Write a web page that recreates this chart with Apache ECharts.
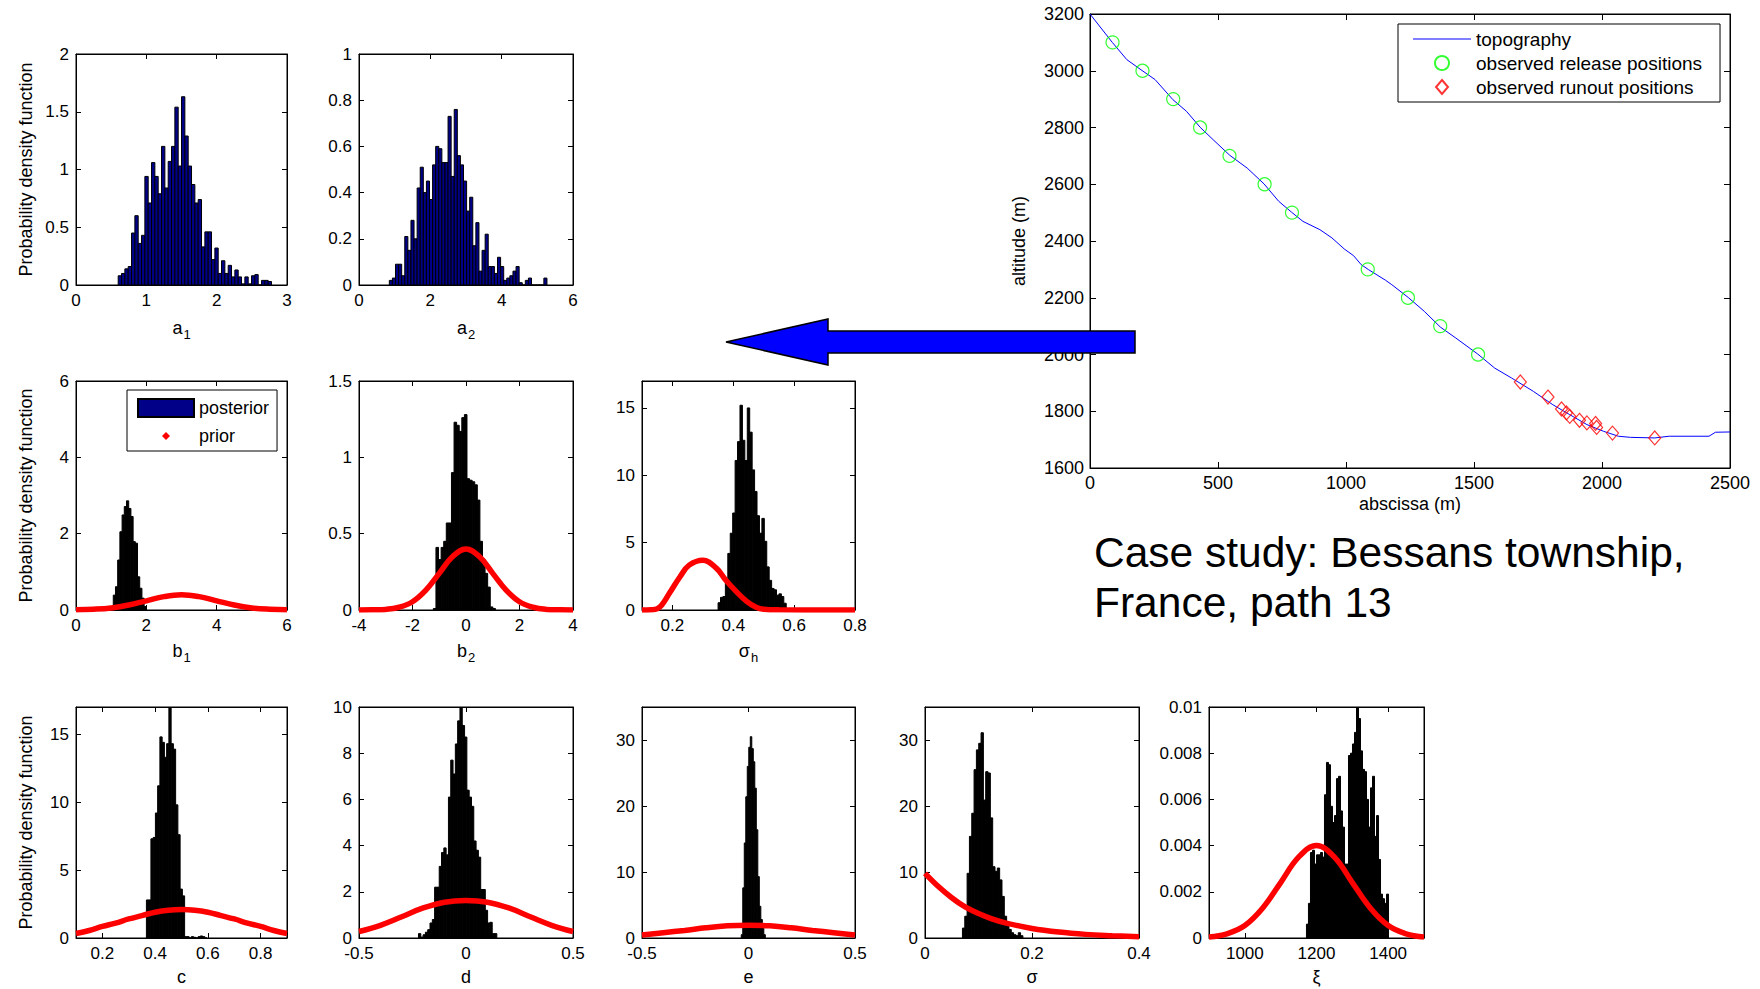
<!DOCTYPE html>
<html>
<head>
<meta charset="utf-8">
<script src="https://cdn.jsdelivr.net/npm/echarts@6/dist/echarts.min.js"></script>
<style>
  html, body { margin: 0; padding: 0; background: #fff; }
  #chart { width: 1760px; height: 989px; }
</style>
</head>
<body>
<div id="chart"></div>
<script>
// ---------- posterior histograms: bin range [lo, hi] and density of each equal-width bin ----------
const a1Range = [0.60, 2.78];
const a1Density = [0.08,0.10,0.14,0.16,0.45,0.60,0.36,0.43,0.94,0.71,1.06,0.94,0.79,1.20,0.84,1.07,1.20,1.54,1.03,1.63,1.29,1.03,0.87,0.71,0.74,0.33,0.46,0.46,0.22,0.32,0.10,0.21,0.10,0.17,0.07,0.13,0.07,0.01,0.07,0.01,0.08,0.09,0.00,0.04,0.04,0.03];

const a2Range = [0.85, 5.27];
const a2Density = [0.02,0.03,0.09,0.09,0.04,0.21,0.15,0.28,0.20,0.42,0.51,0.40,0.45,0.37,0.52,0.60,0.59,0.53,0.53,0.73,0.47,0.76,0.56,0.52,0.45,0.32,0.38,0.17,0.27,0.06,0.15,0.22,0.08,0.08,0.05,0.12,0.08,0.02,0.03,0.04,0.06,0.08,0.01,0.00,0.02,0.03,0.00,0.00,0.00,0.00,0.03];

const b1Range = [1.06, 2.00];
const b1Density = [0.39,0.61,1.31,2.05,2.49,2.71,2.86,2.66,2.45,1.79,1.75,0.87,0.57,0.31,0.09];

const b2Range = [-1.22, 1.10];
const b2Density = [0.01,0.41,0.33,0.41,0.45,0.57,0.57,0.90,1.23,1.21,1.17,1.26,1.28,0.86,0.85,0.84,0.82,0.72,0.45,0.33,0.24,0.15,0.02,0.01];

const sigmaHRange = [0.350, 0.574];
const sigmaHDensity = [0.54,0.94,1.0,2.2,4.2,5.7,7.2,11.1,12.5,15.2,12.6,11.1,15.0,13.2,10.4,8.8,7.0,5.7,6.8,5.1,3.2,2.2,1.6,1.5,1.1,1.2,1.0,0.5];

const cRange = [0.367, 0.597];
const cDensity = [2.8,2.8,7.3,7.4,9.2,11.2,14.8,14.4,13.3,14.3,17.0,14.3,13.9,9.8,7.6,3.6,3.1,0.1,0.1,0,0.1,0.05,0,0.1,0.15,0.1,0];

const dRange = [-0.222, 0.144];
const dDensity = [0.19,0.04,0.14,0.25,0.36,0.65,0.8,2.2,2.2,3.1,3.7,3.9,3.6,6.1,7.7,7.1,8.4,9.4,10.0,9.2,8.7,6.4,6.1,5.7,4.2,3.8,3.5,2.1,2.1,1.2,0.65,0.68,0.19,0.19];

const eRange = [-0.034, 0.079];
const eDensity = [0.5,7.6,14.4,21.4,26,28.9,30.5,28.7,26.7,22.7,16.4,9.3,4.8,2.8,1.7,0.5];

const sigmaRange = [0.070, 0.183];
const sigmaDensity = [1.5,3.3,9.8,15.4,18.9,25.5,28.5,29.5,31.1,20.9,25.2,25.0,18.2,10.8,10.1,10.6,8.8,6.3,3.3,1.8,1.3,0.8,0.5,0.35,0.8,0.35];

const xiRange = [1172, 1401];
const xiDensity = [0.0006,0.0015,0.0037,0.0038,0.0032,0.0036,0.0036,0.0037,0.0035,0.0062,0.0076,0.0075,0.0057,0.0050,0.0053,0.0069,0.0070,0.0055,0.0048,0.0032,0.0032,0.0079,0.0080,0.0084,0.0089,0.0100,0.0095,0.0081,0.0073,0.0072,0.0060,0.0048,0.0065,0.0070,0.0044,0.0053,0.0034,0.0019,0.0017,0.0015,0.0019];

// ---------- prior densities ----------
const b1PriorX = [0,0.5,1,1.5,2,2.5,3,3.5,4,4.5,5,5.5,6];
const b1PriorY = [0.005,0.02,0.055,0.13,0.24,0.35,0.40,0.35,0.24,0.13,0.055,0.02,0.005];

const b2PriorX = [-4,-3.5,-3,-2.5,-2,-1.5,-1,-0.5,0,0.5,1,1.5,2,2.5,3,3.5,4];
const b2PriorY = [0,0.001,0.004,0.018,0.054,0.13,0.24,0.35,0.40,0.35,0.24,0.13,0.054,0.018,0.004,0.001,0];

const sigmaHPriorX = [0.1,0.13,0.15,0.165,0.19,0.225,0.255,0.3,0.345,0.375,0.41,0.445,0.475,0.5,0.55,0.8];
const sigmaHPriorY = [0,0.02,0.1,0.37,1.24,2.47,3.33,3.7,3.09,2.22,1.36,0.62,0.2,0.05,0.01,0];

const cPriorX = [0.1,0.15,0.2,0.25,0.3,0.35,0.4,0.45,0.5,0.55,0.6,0.65,0.7,0.75,0.8,0.85,0.9];
const cPriorY = [0.33,0.55,0.85,1.1,1.4,1.65,1.9,2.05,2.1,2.05,1.9,1.65,1.4,1.1,0.85,0.55,0.33];

const dPriorX = [-0.5,-0.4,-0.3,-0.2,-0.1,0,0.1,0.2,0.3,0.4,0.5];
const dPriorY = [0.28,0.55,0.92,1.3,1.55,1.62,1.55,1.3,0.92,0.55,0.28];

const ePriorX = [-0.5,-0.4,-0.3,-0.2,-0.1,0,0.1,0.2,0.3,0.4,0.5];
const ePriorY = [0.45,0.8,1.15,1.55,1.85,1.95,1.85,1.55,1.15,0.8,0.45];

const sigmaPriorX = [0,0.025,0.05,0.075,0.1,0.125,0.15,0.2,0.25,0.3,0.35,0.4];
const sigmaPriorY = [9.8,7.8,6.1,4.7,3.7,2.9,2.3,1.45,0.9,0.55,0.35,0.2];

const xiPriorX = [900,950,1000,1050,1100,1150,1200,1250,1300,1350,1400,1450,1500];
const xiPriorY = [0.00004,0.00018,0.00054,0.0013,0.0024,0.0035,0.0040,0.0035,0.0024,0.0013,0.00054,0.00018,0.00004];

// ---------- topography profile of path 13 ----------
const topoX   = [0,87,144,203,254,324,377,430,481,546,614,680,737,788,832,898,945,993,1030,1059,1088,1154,1179,1243,1306,1368,1429,1514,1581,1647,1732,1808,1874,1941,2007,2064,2111,2206,2263,2418,2443,2500];
const topoAlt = [3200,3100,3039,3001,2969,2898,2857,2801,2757,2702,2657,2601,2540,2501,2469,2440,2411,2372,2348,2317,2299,2262,2246,2201,2152,2097,2058,2002,1952,1917,1870,1823,1788,1753,1729,1712,1708,1706,1712,1712,1726,1727];
const releaseX   = [88,205,325,430,545,682,789,1085,1242,1368,1516];
const releaseAlt = [3100,3000,2900,2800,2700,2600,2500,2300,2200,2100,2000];
const runoutX   = [1681,1789,1842,1861,1874,1912,1941,1975,1979,2041,2206];
const runoutAlt = [1903,1850,1808,1794,1782,1768,1759,1757,1743,1723,1706];

// ---------- tick values ----------
const a1XTicks = [0,1,2,3],            a1YTicks = [0,0.5,1,1.5,2];
const a2XTicks = [0,2,4,6],            a2YTicks = [0,0.2,0.4,0.6,0.8,1];
const b1XTicks = [0,2,4,6],            b1YTicks = [0,2,4,6];
const b2XTicks = [-4,-2,0,2,4],        b2YTicks = [0,0.5,1,1.5];
const sigmaHXTicks = [0.2,0.4,0.6,0.8], sigmaHYTicks = [0,5,10,15];
const cXTicks = [0.2,0.4,0.6,0.8],     cYTicks = [0,5,10,15];
const dXTicks = [-0.5,0,0.5],          dYTicks = [0,2,4,6,8,10];
const eXTicks = [-0.5,0,0.5],          eYTicks = [0,10,20,30];
const sigmaXTicks = [0,0.2,0.4],       sigmaYTicks = [0,10,20,30];
const xiXTicks = [1000,1200,1400],     xiYTicks = [0,0.002,0.004,0.006,0.008,0.01];
const topoXTicks = [0,500,1000,1500,2000,2500];
const topoYTicks = [1600,1800,2000,2200,2400,2600,2800,3000,3200];

// ---------- drawing ----------
const FONT = "'Liberation Sans', Arial, Helvetica, sans-serif";
const NAVY = '#000088';
const PDF_LABEL = 'Probability density function';

// wide bins show the navy fill; the narrow bins are dominated by their black edges
const panels = [
  { box: [76, 54, 211, 231],   x: [0, 3],      y: [0, 2],    xt: a1XTicks, yt: a1YTicks, name: ['a', '1'], gap: 34, ylab: true,  fill: NAVY, hist: [a1Range, a1Density] },
  { box: [359, 54, 214, 231],  x: [0, 6],      y: [0, 1],    xt: a2XTicks, yt: a2YTicks, name: ['a', '2'], gap: 34, fill: NAVY, hist: [a2Range, a2Density] },
  { box: [76, 381, 211, 229],  x: [0, 6],      y: [0, 6],    xt: b1XTicks, yt: b1YTicks, name: ['b', '1'], gap: 32, ylab: true,  hist: [b1Range, b1Density], prior: [b1PriorX, b1PriorY] },
  { box: [359, 381, 214, 229], x: [-4, 4],     y: [0, 1.5],  xt: b2XTicks, yt: b2YTicks, name: ['b', '2'], gap: 32, hist: [b2Range, b2Density], prior: [b2PriorX, b2PriorY] },
  { box: [642, 381, 213, 229], x: [0.1, 0.8],  y: [0, 17],   xt: sigmaHXTicks, yt: sigmaHYTicks, name: ['σ', 'h'], gap: 32, hist: [sigmaHRange, sigmaHDensity], prior: [sigmaHPriorX, sigmaHPriorY] },
  { box: [76, 707, 211, 231],  x: [0.1, 0.9],  y: [0, 17],   xt: cXTicks, yt: cYTicks, name: ['c'], gap: 30, ylab: true, hist: [cRange, cDensity], prior: [cPriorX, cPriorY] },
  { box: [359, 707, 214, 231], x: [-0.5, 0.5], y: [0, 10],   xt: dXTicks, yt: dYTicks, name: ['d'], gap: 30, hist: [dRange, dDensity], prior: [dPriorX, dPriorY] },
  { box: [642, 707, 213, 231], x: [-0.5, 0.5], y: [0, 35],   xt: eXTicks, yt: eYTicks, name: ['e'], gap: 30, hist: [eRange, eDensity], prior: [ePriorX, ePriorY] },
  { box: [925, 707, 214, 231], x: [0, 0.4],    y: [0, 35],   xt: sigmaXTicks, yt: sigmaYTicks, name: ['σ'], gap: 30, hist: [sigmaRange, sigmaDensity], prior: [sigmaPriorX, sigmaPriorY] },
  { box: [1209, 707, 215, 231], x: [900, 1500], y: [0, 0.01], xt: xiXTicks, yt: xiYTicks, name: ['ξ'], gap: 30, hist: [xiRange, xiDensity], prior: [xiPriorX, xiPriorY] }
];

const nameRich = {
  m: { fontFamily: FONT, fontSize: 18, color: '#000', lineHeight: 20, verticalAlign: 'top' },
  s: { fontFamily: FONT, fontSize: 13, color: '#000', lineHeight: 14, verticalAlign: 'top', padding: [9, 0, 0, 1] }
};

function axis(gridIndex, position, range, ticks, opts) {
  const labels = !!opts.labels;
  return {
    type: 'value', gridIndex, position, min: range[0], max: range[1],
    axisLine: { show: true, onZero: false, lineStyle: { color: '#000', width: 1 } },
    axisTick: { show: true, inside: true, length: opts.tickLen || 5, customValues: ticks, lineStyle: { color: '#000', width: 1 } },
    axisLabel: {
      show: labels, customValues: ticks, color: '#000', fontFamily: FONT,
      fontSize: opts.fontSize || 17, margin: opts.margin || 7, hideOverlap: false,
      formatter: v => String(v)
    },
    splitLine: { show: false },
    name: labels && opts.name ? opts.name : '',
    nameLocation: 'middle', nameGap: opts.nameGap || 30,
    nameTextStyle: Object.assign({ fontFamily: FONT, fontSize: 18, color: '#000' }, opts.nameStyle || {})
  };
}

const option = {
  animation: false,
  backgroundColor: '#fff',
  textStyle: { fontFamily: FONT },
  title: {
    text: 'Case study: Bessans township,\nFrance, path 13',
    left: 1094, top: 527, padding: 0,
    textStyle: { fontFamily: FONT, fontSize: 42.5, fontWeight: 'normal', color: '#000', lineHeight: 50 }
  },
  legend: [
    {
      orient: 'vertical', left: 127, top: 390, padding: [8, 8, 6, 10],
      itemWidth: 56, itemHeight: 18, itemGap: 9,
      backgroundColor: '#fff', borderColor: '#000', borderWidth: 1, borderRadius: 0,
      textStyle: { fontFamily: FONT, fontSize: 18, color: '#000', lineHeight: 18 },
      selectedMode: false,
      data: [
        { name: 'posterior', icon: 'rect' },
        { name: 'prior', icon: 'path://M0,0M56,18M28,5L32,9L28,13L24,9Z' }
      ]
    },
    {
      orient: 'vertical', left: 1398, top: 24, padding: [4, 18, 4, 14],
      itemWidth: 58, itemHeight: 14, itemGap: 2,
      backgroundColor: '#fff', borderColor: '#000', borderWidth: 1, borderRadius: 0,
      textStyle: { fontFamily: FONT, fontSize: 19, color: '#000', lineHeight: 22 },
      selectedMode: false,
      data: [
        { name: 'topography', icon: 'path://M0,0M58,14M0,6.5H58V7.5H0Z' },
        { name: 'observed release positions', icon: 'circle' },
        { name: 'observed runout positions', icon: 'path://M0,0M58,14M29,0L35,7L29,14L23,7Z' }
      ]
    }
  ],
  grid: [], xAxis: [], yAxis: [], series: [],
  graphic: [{
    // large arrow pointing from the profile to the posterior panels
    type: 'polygon', z: 100,
    shape: { points: [[726, 342], [828, 319], [828, 331], [1135, 331], [1135, 353], [828, 353], [828, 365]] },
    style: { fill: '#0000ff', stroke: '#000', lineWidth: 1.5 }
  }]
};

function histBins(range, density) {
  const w = (range[1] - range[0]) / density.length;
  return density.map((h, k) => [range[0] + k * w, range[0] + (k + 1) * w, h]);
}

panels.forEach((p, i) => {
  const [left, top, width, height] = p.box;
  option.grid.push({ left, top, width, height, show: true, borderColor: '#000', borderWidth: 1,
                     backgroundColor: '#fff', containLabel: false, outerBoundsMode: 'none' });
  const xName = p.name.length > 1 ? `{m|${p.name[0]}}{s|${p.name[1]}}` : `{m|${p.name[0]}}`;
  option.xAxis.push(axis(i, 'bottom', p.x, p.xt, { labels: true, name: xName, nameGap: p.gap, nameStyle: { rich: nameRich } }));
  option.xAxis.push(axis(i, 'top', p.x, p.xt, {}));
  option.yAxis.push(axis(i, 'left', p.y, p.yt, { labels: true, name: p.ylab ? PDF_LABEL : '', nameGap: 41 }));
  option.yAxis.push(axis(i, 'right', p.y, p.yt, {}));

  const fill = p.fill || '#000';
  option.series.push({
    type: 'custom', name: 'posterior',
    xAxisIndex: 2 * i, yAxisIndex: 2 * i, clip: true, z: 2,
    itemStyle: { color: NAVY, borderColor: '#000', borderWidth: 1 },
    encode: { x: [0, 1], y: 2 },
    data: histBins(p.hist[0], p.hist[1]),
    renderItem(params, api) {
      const p0 = api.coord([api.value(0), api.value(2)]);
      const p1 = api.coord([api.value(1), 0]);
      return {
        type: 'rect',
        shape: { x: p0[0], y: p0[1], width: p1[0] - p0[0], height: p1[1] - p0[1] },
        style: { fill: fill, stroke: '#000', lineWidth: 1 }
      };
    }
  });

  if (p.prior) {
    option.series.push({
      type: 'line', name: 'prior',
      xAxisIndex: 2 * i, yAxisIndex: 2 * i, z: 3,
      data: p.prior[0].map((x, k) => [x, p.prior[1][k]]),
      smooth: 0.4, symbol: 'none',
      lineStyle: { color: '#ff0000', width: 5.5 },
      itemStyle: { color: '#ff0000' }
    });
  }
});

// topography panel
const t = panels.length;
option.grid.push({ left: 1090, top: 14, width: 640, height: 454, show: true, borderColor: '#000', borderWidth: 1,
                   backgroundColor: '#fff', containLabel: false, outerBoundsMode: 'none' });
option.xAxis.push(axis(t, 'bottom', [0, 2500], topoXTicks, { labels: true, name: 'abscissa (m)', nameGap: 27, fontSize: 18, margin: 6, tickLen: 6, nameStyle: { fontSize: 18 } }));
option.xAxis.push(axis(t, 'top', [0, 2500], topoXTicks, { tickLen: 6 }));
option.yAxis.push(axis(t, 'left', [1600, 3200], topoYTicks, { labels: true, name: 'altitude (m)', nameGap: 62, fontSize: 18, margin: 6, tickLen: 6, nameStyle: { fontSize: 18 } }));
option.yAxis.push(axis(t, 'right', [1600, 3200], topoYTicks, { tickLen: 6 }));

option.series.push({
  type: 'line', name: 'topography', xAxisIndex: 2 * t, yAxisIndex: 2 * t,
  data: topoX.map((x, k) => [x, topoAlt[k]]),
  symbol: 'none', lineStyle: { color: '#0000ff', width: 1 }, itemStyle: { color: '#0000ff' }, z: 2
});
option.series.push({
  type: 'scatter', name: 'observed release positions', xAxisIndex: 2 * t, yAxisIndex: 2 * t,
  data: releaseX.map((x, k) => [x, releaseAlt[k]]),
  symbol: 'circle', symbolSize: 13,
  itemStyle: { color: 'transparent', borderColor: '#00ff00', borderWidth: 1.2 }, z: 3
});
option.series.push({
  type: 'scatter', name: 'observed runout positions', xAxisIndex: 2 * t, yAxisIndex: 2 * t,
  data: runoutX.map((x, k) => [x, runoutAlt[k]]),
  symbol: 'diamond', symbolSize: [12, 14],
  itemStyle: { color: 'transparent', borderColor: '#ff0000', borderWidth: 1.2 }, z: 4
});

const chart = echarts.init(document.getElementById('chart'), null, { renderer: 'svg', width: 1760, height: 989 });
chart.setOption(option);
</script>
</body>
</html>
